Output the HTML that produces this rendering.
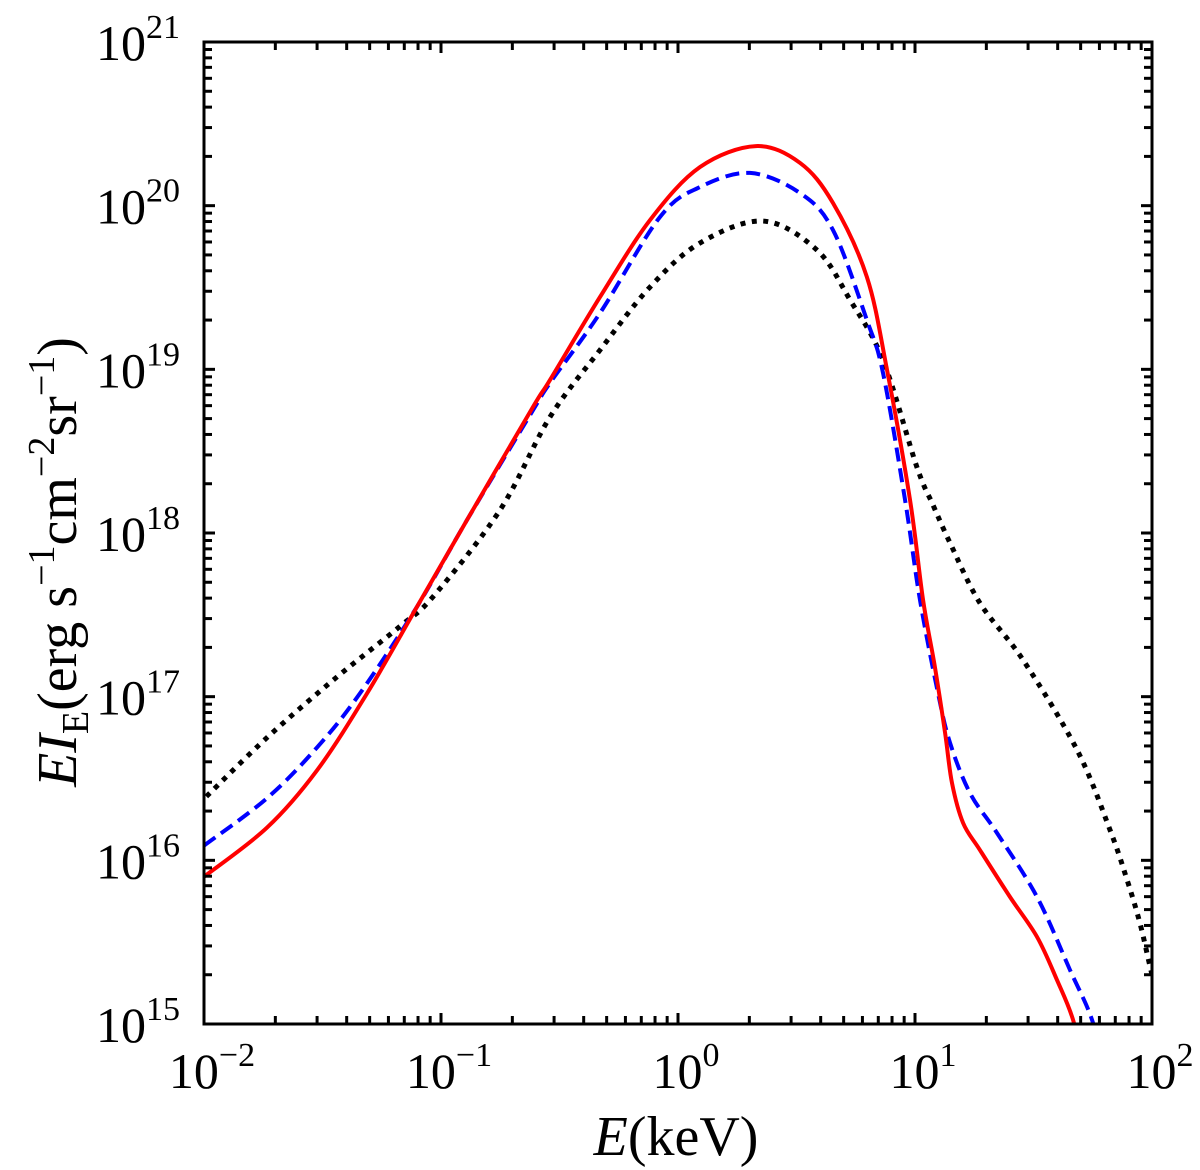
<!DOCTYPE html>
<html><head><meta charset="utf-8"><style>
html,body{margin:0;padding:0;background:#fff;}
svg{display:block;font-family:"Liberation Serif",serif;}
</style></head><body>
<svg id="chart" width="1200" height="1170" viewBox="0 0 1200 1170" xmlns="http://www.w3.org/2000/svg">
<g id="series"></g>
<rect x="204" y="42" width="948" height="982" fill="none" stroke="#000" stroke-width="3"/>
<g id="ticks"></g>
<text x="676" y="1155" font-size="56" text-anchor="middle"><tspan font-style="italic">E</tspan>(keV)</text>
<text transform="translate(76,562) rotate(-90)" font-size="56" text-anchor="middle"><tspan font-style="italic">EI</tspan><tspan font-size="38" dy="12">E</tspan><tspan dy="-12">(erg s</tspan><tspan font-size="38" dy="-22">−1</tspan><tspan dy="22">cm</tspan><tspan font-size="38" dy="-22">−2</tspan><tspan dy="22">sr</tspan><tspan font-size="38" dy="-22">−1</tspan><tspan dy="22">)</tspan></text>
</svg>
<script>
const xTickExps=[-2,-1,0,1,2];
const yTickExps=[15,16,17,18,19,20,21];
const redLogE=[-2,-1.734,-1.523,-1.312,-1.101,-0.890,-0.612,-0.54,-0.329,-0.118,0.093,0.329,0.515,0.654,0.797,0.882,0.979,1.034,1.084,1.127,1.156,1.203,1.274,1.401,1.515,1.599,1.667,1.72];
const redLogI=[15.90,16.20,16.55,17.02,17.55,18.08,18.77,18.935,19.442,19.912,20.236,20.364,20.261,20.016,19.564,18.996,18.202,17.591,17.181,16.778,16.473,16.228,16.063,15.776,15.532,15.269,15.025,14.7];
const blueLogE=[-2,-1.734,-1.523,-1.342,-1.101,-0.890,-0.612,-0.54,-0.329,-0.076,0.093,0.304,0.515,0.654,0.797,0.865,0.958,1.021,1.097,1.148,1.232,1.346,1.515,1.654,1.747,1.8];
const blueLogI=[16.09,16.38,16.69,17.02,17.55,18.08,18.75,18.917,19.344,19.931,20.114,20.200,20.077,19.851,19.301,18.978,18.202,17.591,17.022,16.717,16.411,16.167,15.776,15.33,15.025,14.7];
const blackLogE=[-1.99,-1.734,-1.456,-1.173,-1.034,-0.751,-0.54,-0.329,-0.118,0.093,0.359,0.586,0.726,0.865,1.008,1.076,1.148,1.274,1.456,1.684,1.823,1.895,1.949,1.992,2.05];
const blackLogI=[16.39,16.75,17.10,17.43,17.61,18.14,18.709,19.118,19.503,19.772,19.906,19.729,19.424,19.057,18.403,18.171,17.939,17.572,17.224,16.674,16.185,15.88,15.617,15.35,15.0];

const X0=204,X1=1152,Y0=1024,Y1=42;
const sx=v=>X0+(v+2)/4*(X1-X0);
const sy=v=>Y0-(v-15)/6*(Y0-Y1);
const NS="http://www.w3.org/2000/svg";
function path(le,li){
  const p=le.map((v,i)=>[sx(v),sy(li[i])]);
  let d="M"+p[0][0]+","+p[0][1];
  for(let i=0;i<p.length-1;i++){
    const a=p[i-1]||p[i],b=p[i],c=p[i+1],e=p[i+2]||c;
    d+=" C"+(b[0]+(c[0]-a[0])/6)+","+(b[1]+(c[1]-a[1])/6)+" "+(c[0]-(e[0]-b[0])/6)+","+(c[1]-(e[1]-b[1])/6)+" "+c[0]+","+c[1];
  }
  return d;
}
const series=document.getElementById('series');
const defs=document.createElementNS(NS,'clipPath');defs.id='clip';
const cr=document.createElementNS(NS,'rect');cr.setAttribute('x',X0);cr.setAttribute('y',Y1);cr.setAttribute('width',X1-X0);cr.setAttribute('height',Y0-Y1);
defs.appendChild(cr);document.getElementById('chart').appendChild(defs);
series.setAttribute('clip-path','url(#clip)');
function addLine(le,li,color,dash,width,name){
  const el=document.createElementNS(NS,'path');
  el.setAttribute('d',path(le,li));el.setAttribute('fill','none');el.setAttribute('stroke',color);el.setAttribute('stroke-width',width);
  if(dash)el.setAttribute('stroke-dasharray',dash);
  
  
  series.appendChild(el);
}
addLine(blackLogE,blackLogI,'#000','5 6.5','5','black-dotted-curve');
addLine(blueLogE,blueLogI,'#0000ff','14 7','4','blue-dashed-curve');
addLine(redLogE,redLogI,'#ff0000',null,'4','red-solid-curve');

const ticks=document.getElementById('ticks');
function ln(x1,y1,x2,y2,name){
  const l=document.createElementNS(NS,'line');
  l.setAttribute('x1',x1);l.setAttribute('y1',y1);l.setAttribute('x2',x2);l.setAttribute('y2',y2);
  l.setAttribute('stroke','#000');l.setAttribute('stroke-width','3');
  
  
  ticks.appendChild(l);
}
function lab(x,y,e,anchor,name){
  const t=document.createElementNS(NS,'text');
  t.setAttribute('x',x);t.setAttribute('y',y);t.setAttribute('font-size','50');t.setAttribute('text-anchor',anchor);
  t.innerHTML='10<tspan font-size="34" dy="-22">'+(e<0?'−'+(-e):e)+'</tspan>';
  
  
  ticks.appendChild(t);
}
xTickExps.forEach((e,i)=>{
  const x=sx(e);
  ln(x,Y0,x,Y0-11,'x-major-tick');ln(x,Y1,x,Y1+11,'x-major-tick-top');
  lab(x+8,1088,e,'middle','x-tick-label');
  if(i<xTickExps.length-1)for(let m=2;m<10;m++){const xm=sx(e+Math.log10(m));ln(xm,Y0,xm,Y0-8,'x-minor-tick');ln(xm,Y1,xm,Y1+8,'x-minor-tick-top');}
});
yTickExps.forEach((e,i)=>{
  const y=sy(e);
  ln(X0,y,X0+11,y,'y-major-tick');ln(X1,y,X1-11,y,'y-major-tick-right');
  lab(180,y+18,e,'end','y-tick-label');
  if(i<yTickExps.length-1)for(let m=2;m<10;m++){const ym=sy(e+Math.log10(m));ln(X0,ym,X0+8,ym,'y-minor-tick');ln(X1,ym,X1-8,ym,'y-minor-tick-right');}
});
</script>
</body></html>
